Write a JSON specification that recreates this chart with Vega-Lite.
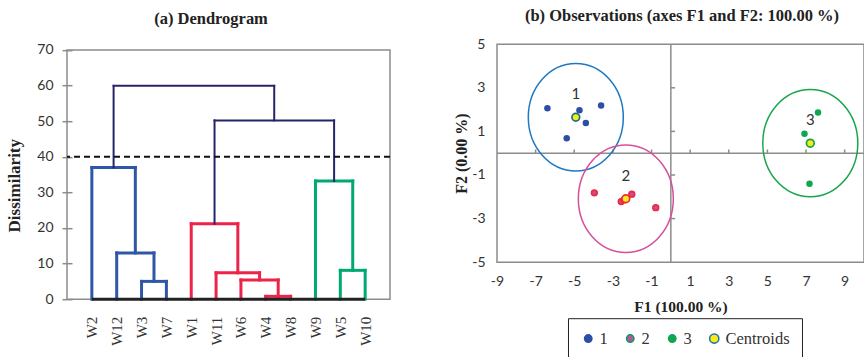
{
  "$schema": "https://vega.github.io/schema/vega-lite/v6.json",
  "padding": {"left": 5, "top": 7.2, "right": 0, "bottom": 0},
  "bounds": "flush",
  "spacing": 107,
  "config": {
    "view": {"stroke": null},
    "font": "Liberation Serif",
    "axis": {"grid": false, "labelOverlap": false, "labelFlush": false, "labelBound": false, "labelFont": "Lato", "labelFontSize": 14, "labelColor": "#333333", "titleFont": "Liberation Serif", "titleFontWeight": "bold", "titleFontSize": 16, "titleColor": "#222222", "tickColor": "#8c8c8c", "domainColor": "#8c8c8c"},
    "title": {"font": "Liberation Serif", "fontSize": 16.5, "fontWeight": "bold", "color": "#222222"}
  },
  "datasets": {
    "merges": [
      {"lx": 3, "rx": 4, "lh": 0, "rh": 0, "h": 5.0, "grp": "blue"},
      {"lx": 2, "rx": 3.5, "lh": 0, "rh": 5.0, "h": 13.0, "grp": "blue"},
      {"lx": 1, "rx": 2.75, "lh": 0, "rh": 13.0, "h": 37.0, "grp": "blue"},
      {"lx": 8, "rx": 9, "lh": 0, "rh": 0, "h": 0.8, "grp": "red"},
      {"lx": 7, "rx": 8.5, "lh": 0, "rh": 0.8, "h": 5.4, "grp": "red"},
      {"lx": 6, "rx": 7.75, "lh": 0, "rh": 5.4, "h": 7.4, "grp": "red"},
      {"lx": 5, "rx": 6.875, "lh": 0, "rh": 7.4, "h": 21.2, "grp": "red"},
      {"lx": 11, "rx": 12, "lh": 0, "rh": 0, "h": 8.1, "grp": "green"},
      {"lx": 10, "rx": 11.5, "lh": 0, "rh": 8.1, "h": 33.2, "grp": "green"},
      {"lx": 5.9375, "rx": 10.75, "lh": 21.2, "rh": 33.2, "h": 50.2, "grp": "top"},
      {"lx": 1.875, "rx": 8.34, "lh": 37.0, "rh": 50.2, "h": 59.9, "grp": "top"}
    ],
    "points": [
      {"F1": -6.39, "F2": 2.06, "cluster": "1", "series": "1"},
      {"F1": -4.73, "F2": 1.97, "cluster": "1", "series": "1"},
      {"F1": -3.61, "F2": 2.19, "cluster": "1", "series": "1"},
      {"F1": -4.40, "F2": 1.39, "cluster": "1", "series": "1"},
      {"F1": -5.39, "F2": 0.69, "cluster": "1", "series": "1"},
      {"F1": -3.96, "F2": -1.82, "cluster": "2", "series": "2"},
      {"F1": -2.02, "F2": -1.88, "cluster": "2", "series": "2"},
      {"F1": -2.57, "F2": -2.22, "cluster": "2", "series": "2"},
      {"F1": -2.42, "F2": -2.14, "cluster": "2", "series": "2"},
      {"F1": -0.78, "F2": -2.50, "cluster": "2", "series": "2"},
      {"F1": 7.62, "F2": 1.87, "cluster": "3", "series": "3"},
      {"F1": 6.92, "F2": 0.89, "cluster": "3", "series": "3"},
      {"F1": 7.18, "F2": -1.40, "cluster": "3", "series": "3"}
    ],
    "centroids": [
      {"F1": -4.92, "F2": 1.65, "cluster": "1", "series": "Centroids"},
      {"F1": -2.33, "F2": -2.09, "cluster": "2", "series": "Centroids"},
      {"F1": 7.22, "F2": 0.46, "cluster": "3", "series": "Centroids"}
    ],
    "xticks": [{"v": -7}, {"v": -5}, {"v": -3}, {"v": -1}, {"v": 1}, {"v": 3}, {"v": 5}, {"v": 7}, {"v": 9}],
    "yticks": [{"v": 3}, {"v": 1}, {"v": -1}, {"v": -3}]
  },
  "hconcat": [
    {
      "width": 323,
      "height": 255,
      "title": {"text": "(a) Dendrogram", "frame": "group", "anchor": "middle", "dx": -17.5, "offset": 15.8},
      "layer": [
        {
          "data": {"values": [{}]},
          "mark": {"type": "rect", "fill": null, "stroke": "#8c8c8c", "strokeWidth": 1.5},
          "encoding": {
            "x": {"datum": 0, "type": "quantitative", "scale": {"domain": [0, 13], "nice": false, "zero": false},
              "axis": {"values": [1,2,3,4,5,6,7,8,9,10,11,12], "tickCount": 30, "labelOverlap": false, "labelExpr": "['','W2','W12','W3','W7','W1','W11','W6','W4','W8','W9','W5','W10'][datum.value]", "labelAngle": -90, "labelFont": "Liberation Serif", "labelFontSize": 15, "labelPadding": 17, "domain": false, "ticks": false, "title": null}},
            "x2": {"datum": 13},
            "y": {"datum": 0, "type": "quantitative", "scale": {"domain": [0, 71.6], "nice": false, "zero": false},
              "axis": {"values": [0,10,20,30,40,50,60,70], "tickCount": 30, "labelOverlap": false, "domain": false, "tickSize": 10, "tickWidth": 1.5, "offset": -5, "labelPadding": 9, "title": "Dissimilarity", "titleFontSize": 17, "titlePadding": 13, "titleY": 141}},
            "y2": {"datum": 70}
          }
        },
        {
          "data": {"name": "merges"},
          "mark": {"type": "rule", "strokeCap": "square"},
          "encoding": {
            "x": {"field": "lx", "type": "quantitative", "scale": {"domain": [0, 13], "nice": false, "zero": false}},
            "x2": {"field": "rx"},
            "y": {"field": "h", "type": "quantitative", "scale": {"domain": [0, 71.6], "nice": false, "zero": false}},
            "color": {"field": "grp", "type": "nominal", "scale": {"domain": ["blue", "red", "green", "top"], "range": ["#2e57a7", "#ec2449", "#00a874", "#25246b"]}, "legend": null},
            "strokeWidth": {"condition": {"test": "datum.grp === 'top'", "value": 2}, "value": 3}
          }
        },
        {
          "data": {"name": "merges"},
          "mark": {"type": "rule", "strokeCap": "square"},
          "encoding": {
            "x": {"field": "lx", "type": "quantitative", "scale": {"domain": [0, 13], "nice": false, "zero": false}},
            "y": {"field": "lh", "type": "quantitative", "scale": {"domain": [0, 71.6], "nice": false, "zero": false}},
            "y2": {"field": "h"},
            "color": {"field": "grp", "type": "nominal", "scale": {"domain": ["blue", "red", "green", "top"], "range": ["#2e57a7", "#ec2449", "#00a874", "#25246b"]}, "legend": null},
            "strokeWidth": {"condition": {"test": "datum.grp === 'top'", "value": 2}, "value": 3}
          }
        },
        {
          "data": {"name": "merges"},
          "mark": {"type": "rule", "strokeCap": "square"},
          "encoding": {
            "x": {"field": "rx", "type": "quantitative", "scale": {"domain": [0, 13], "nice": false, "zero": false}},
            "y": {"field": "rh", "type": "quantitative", "scale": {"domain": [0, 71.6], "nice": false, "zero": false}},
            "y2": {"field": "h"},
            "color": {"field": "grp", "type": "nominal", "scale": {"domain": ["blue", "red", "green", "top"], "range": ["#2e57a7", "#ec2449", "#00a874", "#25246b"]}, "legend": null},
            "strokeWidth": {"condition": {"test": "datum.grp === 'top'", "value": 2}, "value": 3}
          }
        },
        {
          "data": {"values": [{}]},
          "mark": {"type": "rule", "color": "#222222", "strokeWidth": 3},
          "encoding": {
            "x": {"datum": 1, "type": "quantitative"},
            "x2": {"datum": 12},
            "y": {"datum": 0, "type": "quantitative"}
          }
        },
        {
          "data": {"values": [{}]},
          "mark": {"type": "rule", "color": "#111111", "strokeWidth": 2, "strokeDash": [6, 4]},
          "encoding": {
            "y": {"datum": 40, "type": "quantitative"}
          }
        }
      ]
    },
    {
      "width": 367,
      "height": 218,
      "view": {"stroke": "#8c8c8c", "strokeWidth": 1.5},
      "title": {"text": "(b) Observations (axes F1 and F2: 100.00 %)", "frame": "group", "anchor": "middle", "dx": 1.5, "offset": 12.5},
      "resolve": {"scale": {"stroke": "independent"}},
      "layer": [
        {
          "data": {"values": [{}]},
          "mark": {"type": "rule", "color": "#8c8c8c", "strokeWidth": 1.5},
          "encoding": {
            "x": {"datum": 0, "type": "quantitative", "scale": {"domain": [-9, 10], "nice": false, "zero": false},
              "axis": {"values": [-9,-7,-5,-3,-1,1,3,5,7,9], "tickCount": 30, "labelOverlap": false, "labelExpr": "'' + datum.value", "domain": false, "ticks": false, "labelPadding": 12, "title": "F1 (100.00 %)", "titleFontSize": 15.5, "titlePadding": 11}}
          }
        },
        {
          "data": {"values": [{}]},
          "mark": {"type": "rule", "color": "#8c8c8c", "strokeWidth": 1.5},
          "encoding": {
            "y": {"datum": 0, "type": "quantitative", "scale": {"domain": [-5, 5], "nice": false, "zero": false},
              "axis": {"values": [-5,-3,-1,1,3,5], "tickCount": 30, "labelOverlap": false, "labelExpr": "'' + datum.value", "domain": false, "ticks": false, "labelPadding": 12, "title": "F2 (0.00 %)", "titleFontSize": 16, "titlePadding": 2}}
          }
        },
        {
          "data": {"name": "xticks"},
          "mark": {"type": "rule", "color": "#8c8c8c", "strokeWidth": 1.5},
          "encoding": {
            "x": {"field": "v", "type": "quantitative", "scale": {"domain": [-9, 10], "nice": false, "zero": false}},
            "y": {"datum": 0, "type": "quantitative", "scale": {"domain": [-5, 5], "nice": false, "zero": false}},
            "y2": {"datum": 0.17}
          }
        },
        {
          "data": {"name": "yticks"},
          "mark": {"type": "rule", "color": "#8c8c8c", "strokeWidth": 1.5},
          "encoding": {
            "y": {"field": "v", "type": "quantitative", "scale": {"domain": [-5, 5], "nice": false, "zero": false}},
            "x": {"datum": 0, "type": "quantitative", "scale": {"domain": [-9, 10], "nice": false, "zero": false}},
            "x2": {"datum": 0.22}
          }
        },
        {
          "data": {"name": "centroids"},
          "mark": {"type": "point", "filled": false, "shape": "M -1 0 A 1 1.13 0 1 1 1 0 A 1 1.13 0 1 1 -1 0 Z", "size": 9025, "strokeWidth": 1.5, "opacity": 1},
          "encoding": {
            "x": {"field": "F1", "type": "quantitative", "scale": {"domain": [-9, 10], "nice": false, "zero": false}},
            "y": {"field": "F2", "type": "quantitative", "scale": {"domain": [-5, 5], "nice": false, "zero": false}},
            "stroke": {"field": "cluster", "type": "nominal", "scale": {"domain": ["1", "2", "3"], "range": ["#1f78c1", "#d64f9b", "#16a54a"]}, "legend": null}
          }
        },
        {
          "data": {"name": "points"},
          "mark": {"type": "point", "filled": true, "shape": "circle", "size": 42, "opacity": 1},
          "encoding": {
            "x": {"field": "F1", "type": "quantitative", "scale": {"domain": [-9, 10], "nice": false, "zero": false}},
            "y": {"field": "F2", "type": "quantitative", "scale": {"domain": [-5, 5], "nice": false, "zero": false}},
            "fill": {"field": "series", "type": "nominal", "scale": {"domain": ["1", "2", "3", "Centroids"], "range": ["#2c4fa5", "#c0529c", "#0fa650", "#f7ec13"]},
              "legend": {"orient": "none", "legendX": 501, "legendY": 274, "direction": "horizontal", "columns": 4, "title": null, "strokeColor": "#222222", "padding": 12, "labelFont": "Liberation Serif", "labelFontSize": 16.5, "labelColor": "#333333", "labelOffset": 3, "columnPadding": 14, "symbolType": "circle",
                "symbolSize": {"expr": "datum.value === 'Centroids' ? 85 : 55"},
                "symbolStrokeColor": {"expr": "datum.value === '2' ? '#00a060' : datum.value === 'Centroids' ? '#1f6fb5' : datum.value === '1' ? '#2c4fa5' : '#0fa650'"},
                "symbolStrokeWidth": 1.5}}
          }
        },
        {
          "data": {"name": "points"},
          "transform": [{"filter": "datum.cluster === '2'"}],
          "mark": {"type": "point", "filled": false, "shape": "circle", "size": 32, "stroke": "#ee2a3e", "strokeWidth": 1.7, "opacity": 1},
          "encoding": {
            "x": {"field": "F1", "type": "quantitative", "scale": {"domain": [-9, 10], "nice": false, "zero": false}},
            "y": {"field": "F2", "type": "quantitative", "scale": {"domain": [-5, 5], "nice": false, "zero": false}}
          }
        },
        {
          "data": {"name": "centroids"},
          "mark": {"type": "point", "filled": true, "shape": "circle", "size": 60, "opacity": 1},
          "encoding": {
            "x": {"field": "F1", "type": "quantitative", "scale": {"domain": [-9, 10], "nice": false, "zero": false}},
            "y": {"field": "F2", "type": "quantitative", "scale": {"domain": [-5, 5], "nice": false, "zero": false}},
            "fill": {"field": "series", "type": "nominal", "scale": {"domain": ["1", "2", "3", "Centroids"], "range": ["#2c4fa5", "#c0529c", "#0fa650", "#f7ec13"]}}
          }
        },
        {
          "data": {"name": "centroids"},
          "mark": {"type": "point", "filled": false, "shape": "circle", "size": 60, "strokeWidth": 1.7, "opacity": 1},
          "encoding": {
            "x": {"field": "F1", "type": "quantitative", "scale": {"domain": [-9, 10], "nice": false, "zero": false}},
            "y": {"field": "F2", "type": "quantitative", "scale": {"domain": [-5, 5], "nice": false, "zero": false}},
            "stroke": {"field": "cluster", "type": "nominal", "scale": {"domain": ["1", "2", "3"], "range": ["#1a6e8e", "#ee2a3e", "#0fa650"]}, "legend": null}
          }
        },
        {
          "data": {"name": "centroids"},
          "mark": {"type": "text", "font": "Lato", "fontSize": 15, "color": "#333333", "dy": -23},
          "encoding": {
            "x": {"field": "F1", "type": "quantitative", "scale": {"domain": [-9, 10], "nice": false, "zero": false}},
            "y": {"field": "F2", "type": "quantitative", "scale": {"domain": [-5, 5], "nice": false, "zero": false}},
            "text": {"field": "cluster", "type": "nominal"}
          }
        }
      ]
    }
  ]
}
